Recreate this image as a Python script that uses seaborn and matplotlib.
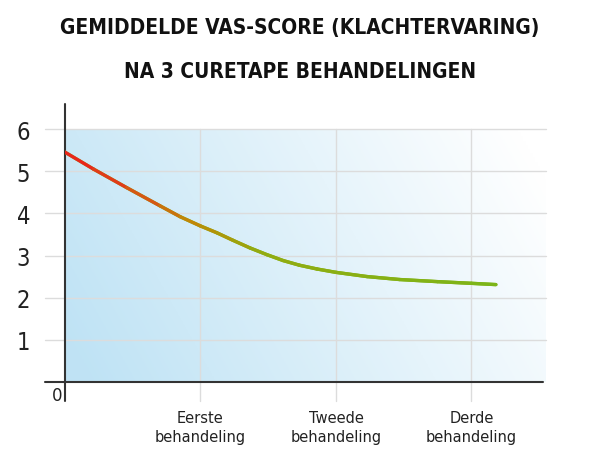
import numpy as np
import pandas as pd
import seaborn as sns
import matplotlib.pyplot as plt
from matplotlib.collections import LineCollection
from matplotlib.colors import LinearSegmentedColormap

# data
behandeling = [0, 0.21, 0.455, 0.70, 0.85, 1.0, 1.12, 1.24, 1.365, 1.49, 1.61,
               1.73, 1.86, 2.0, 2.23, 2.47, 2.75, 3.0, 3.18]
vas_score = [5.45, 5.05, 4.61, 4.18, 3.92, 3.70, 3.54, 3.36, 3.18, 3.02, 2.88,
             2.77, 2.68, 2.60, 2.50, 2.43, 2.38, 2.34, 2.31]
x_ticks = [1, 2, 3]
x_labels = ['Eerste\nbehandeling', 'Tweede\nbehandeling', 'Derde\nbehandeling']
y_ticks = [1, 2, 3, 4, 5, 6]
titel = ['GEMIDDELDE VAS-SCORE (KLACHTERVARING)', 'NA 3 CURETAPE BEHANDELINGEN']

df = pd.DataFrame({'behandeling': behandeling, 'vas': vas_score})

sns.set_theme(style='white')
plt.rcParams['font.family'] = ['DejaVu Sans']

fig = plt.figure(figsize=(6, 4.52), dpi=100)
ax = fig.add_axes([65 / 600, 69 / 452, 481 / 600, 253 / 452])
ax.set_xlim(0, 3.55)
ax.set_ylim(0, 6)
for s in ax.spines.values():
    s.set_visible(False)

# background gradient (light blue bottom-left -> white top-right)
gx, gy = np.meshgrid(np.linspace(0, 1, 200), np.linspace(0, 1, 120))
t = np.clip(0.85 * gx + 0.25 * (1 - gy) - 0.05, 0, 1)
c0 = np.array([0.75, 0.89, 0.96])
c1 = np.array([1.0, 1.0, 1.0])
img = c0[None, None, :] * (1 - t[..., None]) + c1[None, None, :] * t[..., None]
ax.imshow(img, extent=(0, 3.55, 0, 6), origin='upper', aspect='auto', zorder=0)

# grid
grid_col = '#dcdcdc'
for yv in y_ticks:
    ax.plot([-0.148, 3.55], [yv, yv], color=grid_col, lw=1, clip_on=False, zorder=1)
for xv in x_ticks:
    ax.plot([xv, xv], [-0.45, 6], color=grid_col, lw=1, clip_on=False, zorder=1)

# axes lines
ax.plot([-0.148, 3.53], [0, 0], color='#333333', lw=1.5, clip_on=False, zorder=3)
ax.plot([0, 0], [-0.45, 6.6], color='#333333', lw=1.5, clip_on=False, zorder=3)

# line with red -> green gradient
sns.lineplot(data=df, x='behandeling', y='vas', color='#7cb518', lw=2.4, ax=ax, zorder=4)
cmap = LinearSegmentedColormap.from_list(
    'vas', [(0, '#ec1c1c'), (0.15, '#dc4a16'), (0.3, '#bf8a06'), (0.45, '#93ab10'), (1, '#7cb518')])
pts = np.array([behandeling, vas_score]).T.reshape(-1, 1, 2)
segs = np.concatenate([pts[:-1], pts[1:]], axis=1)
lc = LineCollection(segs, cmap=cmap, norm=plt.Normalize(0, 3.18), lw=2.4,
                    capstyle='round', joinstyle='round', zorder=5)
lc.set_array(np.array(behandeling[:-1]) + np.diff(behandeling) / 2)
ax.add_collection(lc)

# ticks
ax.set_xlabel('')
ax.set_ylabel('')
ax.set_yticks(y_ticks)
ax.set_yticklabels([str(v) for v in y_ticks], fontsize=17, color='#222222',
                   fontstretch='condensed', fontweight='light')
ax.set_xticks(x_ticks)
ax.set_xticklabels(x_labels, fontsize=10.5, color='#222222', linespacing=1.35)
ax.tick_params(axis='y', length=0, pad=25)
ax.tick_params(axis='x', length=0, pad=20)
ax.text(-0.06, -0.3, '0', fontsize=12, color='#222222', ha='center', va='center')

for i, regel in enumerate(titel):
    fig.text(0.5, 1 - (28 + 44 * i) / 452, regel, ha='center', va='center', fontsize=15,
             fontweight='bold', fontstretch='condensed', color='#111111')

fig.savefig('out.png', dpi=100)
